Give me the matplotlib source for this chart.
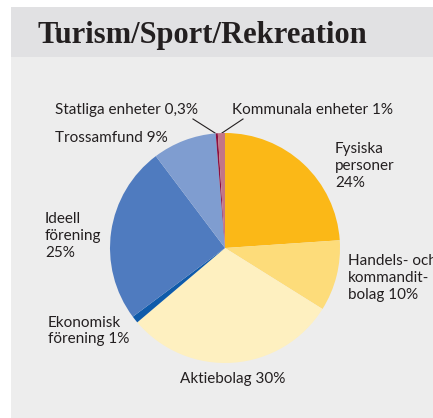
import matplotlib
matplotlib.use("Agg")
import matplotlib.pyplot as plt
from matplotlib.patches import Rectangle

W, H = 433, 418
title = "Turism/Sport/Rekreation"
categories = ["Fysiska personer", "Handels- och kommanditbolag", "Aktiebolag",
              "Ekonomisk förening", "Ideell förening", "Trossamfund",
              "Statliga enheter", "Kommunala enheter"]
values = [24, 10, 30, 1, 25, 9, 0.3, 1]
colors = ["#FBB817", "#FDDC7A", "#FEF0C0", "#0F5BAA", "#4F7BBF", "#7F9DD0",
          "#8B0F3F", "#C27587"]
labels = ["Fysiska\npersoner\n24%", "Handels- och\nkommandit-\nbolag 10%",
          "Aktiebolag 30%", "Ekonomisk\nförening 1%", "Ideell\nförening\n25%",
          "Trossamfund 9%", "Statliga enheter 0,3%", "Kommunala enheter 1%"]
# label anchor positions in pixels (left x, center y of block)
label_pos = [(335, 166), (348, 278), (180, 379), (48, 331), (45, 236),
             (55, 138), (55, 110), (232, 110)]

fig = plt.figure(figsize=(W / 100, H / 100), dpi=100)
fig.patch.set_facecolor("white")
bg = fig.add_axes([0, 0, 1, 1])
bg.set_xlim(0, W)
bg.set_ylim(H, 0)
bg.axis("off")
bg.add_patch(Rectangle((11, 7), W - 11, H - 7, facecolor="#EDEDED", edgecolor="none"))
bg.add_patch(Rectangle((11, 7), W - 11, 50, facecolor="#E1E1E3", edgecolor="none"))
bg.text(38, 35, title, fontsize=22, fontweight="bold", family="Liberation Serif",
        color="#231F20", va="center", ha="left")

cx, cy, r = 225, 248, 115
pax = fig.add_axes([(cx - r) / W, (H - cy - r) / H, 2 * r / W, 2 * r / H])
pax.pie(values, colors=colors, startangle=90, counterclock=False,
        wedgeprops=dict(edgecolor="none", linewidth=0))
pax.set_xlim(-1, 1)
pax.set_ylim(-1, 1)
pax.set_aspect("auto")
pax.axis("off")

for lab, (x, y) in zip(labels, label_pos):
    bg.text(x, y, lab, fontsize=11, family="Lato", color="#231F20",
            ha="left", va="center", linespacing=1.25)

# leader lines
bg.plot([193, 215], [119, 133], color="#231F20", lw=0.8)
bg.plot([243, 222], [119, 133], color="#231F20", lw=0.8)

fig.savefig("out.png", dpi=100)
